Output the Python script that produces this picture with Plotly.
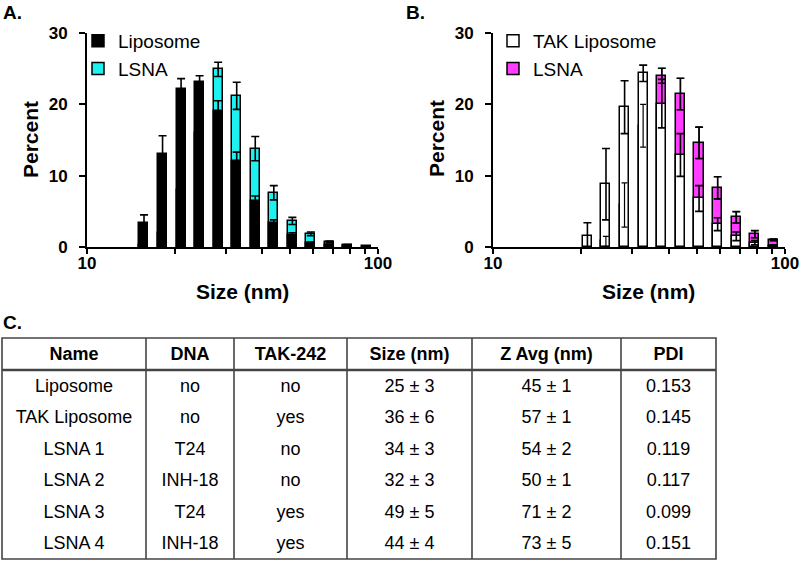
import plotly.graph_objects as go

# ---------------- data ----------------
# Panel A: size bins (nm) and percent distributions
bins_a = [15.69, 18.17, 21.04, 24.36, 28.21, 32.67, 37.84, 43.82, 50.75, 58.77, 68.06, 78.82, 91.28]
liposome = [3.3, 13.0, 22.2, 23.1, 19.0, 12.0, 6.4, 3.3, 1.7, 0.6, 0.35, 0.15, 0.05]
liposome_err = [1.2, 2.6, 1.4, 0.9, 1.5, 1.3, 0.75, 0.5, 0.3, 0.1, 0.05, 0.0, 0.0]
lsna_a = [0.3, 2.0, 8.0, 16.0, 24.9, 21.2, 13.8, 7.6, 3.65, 1.85, 0.75, 0.3, 0.1]
lsna_a_err = [0.2, 0.8, 1.5, 1.5, 1.0, 1.9, 1.7, 1.0, 0.5, 0.25, 0.1, 0.05, 0.0]

# Panel B
bins_b = [21.04, 24.36, 28.21, 32.67, 37.84, 43.82, 50.75, 58.77, 68.06, 78.82, 91.28]
tak_liposome = [1.5, 8.8, 19.6, 24.35, 20.1, 12.9, 6.8, 3.2, 1.5, 0.6, 0.2]
tak_liposome_err = [1.9, 5.0, 3.7, 1.15, 3.4, 3.0, 1.8, 0.9, 0.6, 0.3, 0.1]
lsna_b = [0.0, 0.8, 5.9, 17.0, 24.0, 21.45, 14.6, 8.3, 4.16, 1.8, 1.0]
lsna_b_err = [0.0, 0.7, 3.1, 3.0, 1.05, 2.2, 2.2, 1.55, 0.8, 0.5, 0.1]

# Table C
table_header = ["Name", "DNA", "TAK-242", "Size (nm)", "Z Avg (nm)", "PDI"]
names = ["Liposome", "TAK Liposome", "LSNA 1", "LSNA 2", "LSNA 3", "LSNA 4"]
dna = ["no", "no", "T24", "INH-18", "T24", "INH-18"]
tak242 = ["no", "yes", "no", "no", "yes", "yes"]
sizes = ["25 ± 3", "36 ± 6", "34 ± 3", "32 ± 3", "49 ± 5", "44 ± 4"]
zavg = ["45 ± 1", "57 ± 1", "54 ± 2", "50 ± 1", "71 ± 2", "73 ± 5"]
pdi = ["0.153", "0.145", "0.119", "0.117", "0.099", "0.151"]

# ---------------- styling ----------------
FONT = "Arial, Liberation Sans, sans-serif"
W, H = 800, 566
HALF = 0.0155  # half bar width in log10 units
CYAN = "#1ff0f0"
MAGENTA = "#ff3cff"


def px(x):
    return x / W


def py(y):
    return 1 - y / H


def bar_geom(xs):
    offs = [x * (10 ** -HALF - 1) for x in xs]
    wids = [x * (10 ** HALF - 10 ** -HALF) for x in xs]
    return offs, wids


def err(arr):
    return dict(type="data", array=arr, visible=True, color="black", thickness=1.6, width=4)


fig = go.Figure()

oa, wa = bar_geom(bins_a)
ob, wb = bar_geom(bins_b)

fig.add_trace(go.Bar(x=bins_a, y=lsna_a, offset=oa, width=wa, name="LSNA",
                     marker=dict(color=CYAN, line=dict(color="black", width=1.5)),
                     error_y=err(lsna_a_err), xaxis="x", yaxis="y",
                     legend="legend", legendrank=2))
fig.add_trace(go.Bar(x=bins_a, y=liposome, offset=oa, width=wa, name="Liposome",
                     marker=dict(color="black", line=dict(color="black", width=1.5)),
                     error_y=err(liposome_err), xaxis="x", yaxis="y",
                     legend="legend", legendrank=1))

fig.add_trace(go.Bar(x=bins_b, y=lsna_b, offset=ob, width=wb, name="LSNA",
                     marker=dict(color=MAGENTA, line=dict(color="black", width=1.5)),
                     error_y=err(lsna_b_err), xaxis="x2", yaxis="y2",
                     legend="legend2", legendrank=2))
fig.add_trace(go.Bar(x=bins_b, y=tak_liposome, offset=ob, width=wb, name="TAK Liposome",
                     marker=dict(color="white", line=dict(color="black", width=1.5)),
                     error_y=err(tak_liposome_err), xaxis="x2", yaxis="y2",
                     legend="legend2", legendrank=1))
# LSNA error bars visible on top of the white bars
fig.add_trace(go.Scatter(x=bins_b, y=lsna_b, mode="markers", marker=dict(size=0.1, color="black"),
                         error_y=dict(type="data", array=lsna_b_err, color="black", thickness=1.2, width=3),
                         xaxis="x2", yaxis="y2", showlegend=False, hoverinfo="skip"))

fig.add_trace(go.Table(
    domain=dict(x=[px(2), px(716)], y=[py(559), py(338)]),
    columnwidth=[144, 88, 113, 125, 149, 95],
    header=dict(values=table_header, height=32, align="center",
                fill_color="white", line=dict(color="rgba(0,0,0,0)", width=0),
                font=dict(family=FONT, size=18, color="black", weight="bold")),
    cells=dict(values=[names, dna, tak242, sizes, zavg, pdi], height=31.5, align="center",
               fill_color="white", line=dict(color="rgba(0,0,0,0)", width=0),
               font=dict(family=FONT, size=18, color="black")),
))

tickfont = dict(family=FONT, size=17, color="black", weight="bold")


def xax(domain):
    return dict(domain=domain, type="log", range=[1, 2], showline=True, linewidth=2, linecolor="black",
                ticks="outside", ticklen=5, tickwidth=2, tickcolor="black",
                tickvals=[10, 100], ticktext=["10", "100"], tickfont=tickfont,
                minor=dict(tickvals=[20, 30, 40, 50, 60, 70, 80, 90], ticks="outside",
                           ticklen=5, tickwidth=2, tickcolor="black", showgrid=False),
                showgrid=False, zeroline=False, ticklabelstandoff=-5, automargin=False)


def yax(anchor):
    return dict(domain=[py(247), py(33)], anchor=anchor, range=[0, 30], showline=True, linewidth=2,
                linecolor="black", ticks="outside", ticklen=6, tickwidth=2, tickcolor="black",
                tickvals=[0, 10, 20, 30], tickfont=tickfont, showgrid=False, zeroline=False,
                ticklabelstandoff=8, automargin=False)


xa = xax([px(87), px(378)])
xa["anchor"] = "y"
xb = xax([px(493), px(785)])
xb["anchor"] = "y2"

legfont = dict(family=FONT, size=19, color="black")

annotations = [
    dict(text="A.", x=px(1), y=py(12), xref="paper", yref="paper", xanchor="left", yanchor="middle",
         showarrow=False, font=dict(family=FONT, size=19, color="black", weight="bold")),
    dict(text="B.", x=px(404), y=py(12), xref="paper", yref="paper", xanchor="left", yanchor="middle",
         showarrow=False, font=dict(family=FONT, size=19, color="black", weight="bold")),
    dict(text="C.", x=px(1), y=py(323), xref="paper", yref="paper", xanchor="left", yanchor="middle",
         showarrow=False, font=dict(family=FONT, size=19, color="black", weight="bold")),
    dict(text="Size (nm)", x=px(242), y=py(291), xref="paper", yref="paper", xanchor="center",
         yanchor="middle", showarrow=False, font=dict(family=FONT, size=21, color="black", weight="bold")),
    dict(text="Size (nm)", x=px(648), y=py(291), xref="paper", yref="paper", xanchor="center",
         yanchor="middle", showarrow=False, font=dict(family=FONT, size=21, color="black", weight="bold")),
    dict(text="Percent", x=px(30), y=py(140), xref="paper", yref="paper", xanchor="center",
         yanchor="middle", textangle=-90, showarrow=False,
         font=dict(family=FONT, size=21, color="black", weight="bold")),
    dict(text="Percent", x=px(437), y=py(139), xref="paper", yref="paper", xanchor="center",
         yanchor="middle", textangle=-90, showarrow=False,
         font=dict(family=FONT, size=21, color="black", weight="bold")),
]

# table grid lines
GRID = "#444444"
shapes = [dict(type="rect", xref="paper", yref="paper", x0=px(2), x1=px(716), y0=py(559), y1=py(338),
               line=dict(color=GRID, width=1.6)),
          dict(type="line", xref="paper", yref="paper", x0=px(2), x1=px(716), y0=py(370), y1=py(370),
               line=dict(color=GRID, width=2.5))]
for cx in [146, 234, 347, 472, 621]:
    shapes.append(dict(type="line", xref="paper", yref="paper", x0=px(cx), x1=px(cx),
                       y0=py(559), y1=py(338), line=dict(color=GRID, width=1.6)))

fig.update_layout(
    width=W, height=H, margin=dict(l=0, r=0, t=0, b=0, autoexpand=False),
    paper_bgcolor="white", plot_bgcolor="white",
    barmode="overlay", bargap=0,
    font=dict(family=FONT, color="black"),
    xaxis=xa, yaxis=yax("x"),
    xaxis2=xb, yaxis2=yax("x2"),
    legend=dict(x=px(78), y=py(22), xanchor="left", yanchor="top", font=legfont,
                bgcolor="rgba(0,0,0,0)", traceorder="normal"),
    legend2=dict(x=px(493), y=py(22), xanchor="left", yanchor="top", font=legfont,
                 bgcolor="rgba(0,0,0,0)", traceorder="normal"),
    annotations=annotations,
    shapes=shapes,
)

fig.write_html("out.html", config={"displayModeBar": False},
               post_script="document.body.style.margin='0px';document.body.style.padding='0px';")
